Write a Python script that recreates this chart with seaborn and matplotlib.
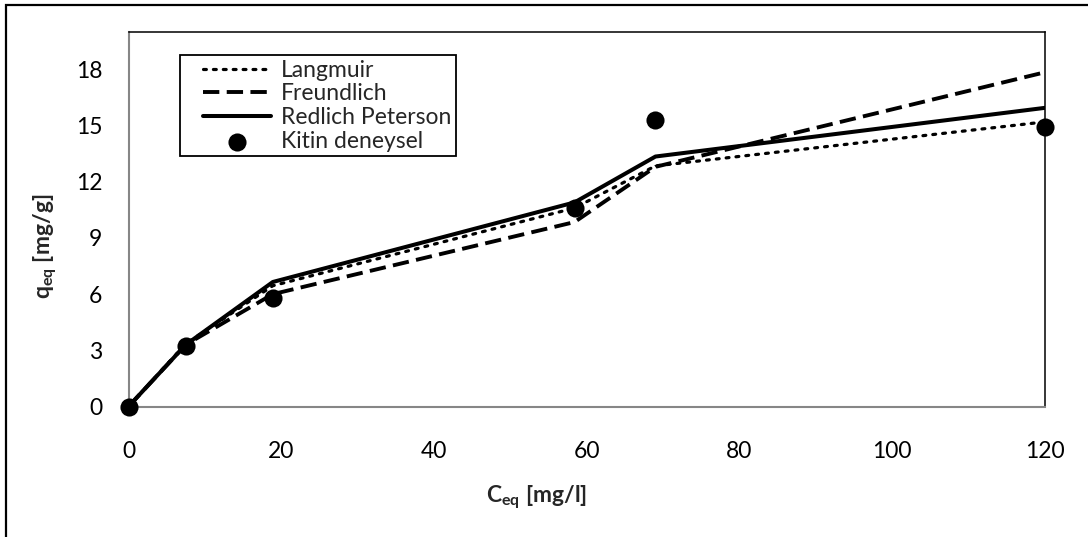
import numpy as np
import pandas as pd
import matplotlib
matplotlib.use('Agg')
import matplotlib.pyplot as plt
import matplotlib.patches as mpatches
from matplotlib.lines import Line2D
from matplotlib.collections import PathCollection
from matplotlib.legend_handler import HandlerLine2D, HandlerPathCollection
import seaborn as sns

c_eq = [0, 7.5, 18.9, 58.4, 69.0, 120.0]
langmuir = [0, 3.35, 6.45, 10.6, 12.85, 15.2]
freundlich = [0, 3.3, 6.0, 9.85, 12.8, 17.85]
redlich_peterson = [0, 3.3, 6.65, 10.9, 13.35, 15.95]
kitin_deneysel = [0, 3.25, 5.8, 10.6, 15.3, 14.9]

x_ticks = [0, 20, 40, 60, 80, 100, 120]
y_ticks = [0, 3, 6, 9, 12, 15, 18]

sns.set_style('white')
plt.rcParams['font.family'] = ['Lato', 'DejaVu Sans']
plt.rcParams['mathtext.fontset'] = 'custom'
plt.rcParams['mathtext.rm'] = 'Lato'
plt.rcParams['mathtext.bf'] = 'Lato:bold'
plt.rcParams['mathtext.it'] = 'Lato:italic'

df = pd.DataFrame({'C': c_eq, 'Langmuir': langmuir, 'Freundlich': freundlich,
                   'Redlich Peterson': redlich_peterson, 'Kitin deneysel': kitin_deneysel})

fig = plt.figure(figsize=(10.88, 5.37), dpi=100)
ax = fig.add_axes([128.5 / 1088, 1 - 406.5 / 537, 916.5 / 1088, 374.5 / 537])

sns.lineplot(data=df, x='C', y='Langmuir', ax=ax, color='black', lw=2.3,
             linestyle=(0, (0.9, 2.2)), dash_capstyle='round', label='Langmuir')
sns.lineplot(data=df, x='C', y='Freundlich', ax=ax, color='black', lw=2.8,
             linestyle=(0, (4.2, 1.9)), label='Freundlich')
sns.lineplot(data=df, x='C', y='Redlich Peterson', ax=ax, color='black', lw=2.9,
             label='Redlich Peterson')
sns.scatterplot(data=df, x='C', y='Kitin deneysel', ax=ax, color='black', s=170,
                edgecolor='black', linewidth=0, clip_on=False, zorder=5, label='Kitin deneysel')

ax.set_xlim(0, 120)
ax.set_ylim(0, 20)
ax.set_xticks(x_ticks)
ax.set_yticks(y_ticks)
ax.tick_params(axis='both', direction='in', length=6, width=1.1, color='#868686',
               labelsize=16.5, labelcolor='black')
ax.tick_params(axis='x', pad=25)
ax.tick_params(axis='y', pad=19)

for side in ['left', 'bottom']:
    ax.spines[side].set_color('#868686')
    ax.spines[side].set_linewidth(1.5)
for side in ['top', 'right']:
    ax.spines[side].set_color('black')
    ax.spines[side].set_linewidth(1.1)

ax.set_xlabel(r'$\mathbf{C}_{\mathbf{eq}}$ [mg/l]', fontsize=16.5, fontweight='bold')
ax.set_ylabel(r'$\mathbf{q}_{\mathbf{eq}}$ [mg/g]', fontsize=16.5, fontweight='bold')
ax.xaxis.set_label_coords(0.445, -0.205)
ax.yaxis.set_label_coords(-0.076, 0.428)

fs = 16.5
pad = 0.8
leg = ax.legend(loc='upper left', bbox_to_anchor=(0.056, 0.9385), fontsize=fs,
                frameon=True, fancybox=False, framealpha=1, edgecolor='black',
                handlelength=3.0 + pad, handletextpad=0.4, labelspacing=0.12,
                borderpad=0.2, borderaxespad=0,
                handler_map={Line2D: HandlerLine2D(xpad=pad),
                             PathCollection: HandlerPathCollection(xpad=pad)})
leg.get_frame().set_linewidth(1.3)

# outer chart border (only top and left are inside the picture)
fig.patches.append(mpatches.Rectangle((5.5 / 1088, -0.2), 1.5, 1.2 - 4.5 / 537,
                                      transform=fig.transFigure, fill=False,
                                      edgecolor='black', linewidth=1.6, clip_on=False))

plt.savefig('out.png', dpi=100)
